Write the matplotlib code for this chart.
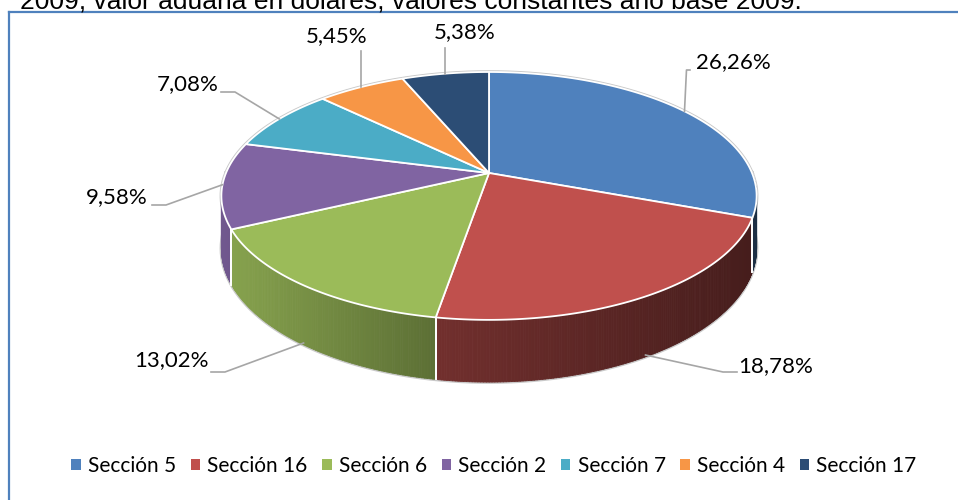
import numpy as np
import matplotlib
matplotlib.use("Agg")
import matplotlib.pyplot as plt
from matplotlib.patches import Polygon, Patch
from matplotlib.collections import PolyCollection

# ---------------------------------------------------------------------------
# data
# ---------------------------------------------------------------------------
labels = ["Sección 5", "Sección 16", "Sección 6", "Sección 2",
          "Sección 7", "Sección 4", "Sección 17"]
values = [26.26, 18.78, 13.02, 9.58, 7.08, 5.45, 5.38]
colors = ["#4F81BD", "#C0504D", "#9BBB59", "#8064A2",
          "#4BACC6", "#F79646", "#2C4D75"]
title = "2009, valor aduana en dólares, valores constantes año base 2009."

# label text centres (pixels) and leader elbow points
label_pos = [(733, 62), (776, 366), (171, 360), (117, 197),
             (188, 84), (337, 36), (465, 32)]
leader_end = [(690, 70), (737, 372), (211, 372), (152, 205),
              (221, 92), (None, 51), (None, 48)]

# ---------------------------------------------------------------------------
# 3d pie geometry (simple perspective on a tilted disc), pixel coords
# ---------------------------------------------------------------------------
W, H = 958, 500
CX, CY = 489.0, 173.0
R, RK, P = 263.0, 119.7, 0.185
DEPTH = 50.7


def proj(t):
    tr = np.radians(t)
    w = 1 + P * np.sin(tr)
    return CX + R * np.cos(tr) / w, CY - RK * np.sin(tr) / w, DEPTH / w


def shade(x):
    return np.interp(x, [222, 440, 757], [0.88, 0.59, 0.36])


def rgb(c):
    c = c.lstrip("#")
    return np.array([int(c[i:i + 2], 16) for i in (0, 2, 4)]) / 255.0


fig = plt.figure(figsize=(W / 100, H / 100), dpi=100)
ax = fig.add_axes([0, 0, 1, 1])
ax.set_xlim(0, W)
ax.set_ylim(H, 0)
ax.axis("off")

total = sum(values)
spans = [v / total * 360 for v in values]
starts = 90 - np.concatenate([[0], np.cumsum(spans)[:-1]])

# silhouette outline (light grey)
tt = np.linspace(0, 360, 400)
ex, ey, ed = proj(tt)
ax.plot(ex, ey, color="#C9C9C9", lw=2.6, zorder=1)
tf = np.linspace(-180, 0, 200)
fx, fy, fd = proj(tf)
ax.plot(fx, fy + fd, color="#C9C9C9", lw=2.6, zorder=1)
for t in (-180, 0):
    x0, y0, d0 = proj(t)
    ax.plot([x0, x0], [y0, y0 + d0], color="#C9C9C9", lw=2.6, zorder=1)

# sides
for t0, sp, col in zip(starts, spans, colors):
    t1 = t0 - sp
    a, b = max(t1, -180), min(t0, 0)
    if a >= b:
        continue
    ts = np.linspace(a, b, max(int((b - a) * 2), 4))
    xs, ys, ds = proj(ts)
    quads, fcs = [], []
    base = rgb(col)
    for i in range(len(ts) - 1):
        quads.append([(xs[i], ys[i]), (xs[i + 1], ys[i + 1]),
                      (xs[i + 1], ys[i + 1] + ds[i + 1]), (xs[i], ys[i] + ds[i])])
        fcs.append(np.clip(base * shade((xs[i] + xs[i + 1]) / 2), 0, 1))
    ax.add_collection(PolyCollection(quads, facecolors=fcs, edgecolors=fcs,
                                     linewidths=0.6, zorder=2))
    # white separators on the side
    for tb in (a, b):
        if -180 < tb < 0:
            x0, y0, d0 = proj(tb)
            ax.plot([x0, x0], [y0, y0 + d0], color="white", lw=1.3, zorder=3)

# tops
for t0, sp, col in zip(starts, spans, colors):
    ts = np.linspace(t0, t0 - sp, max(int(sp * 2), 4))
    xs, ys, _ = proj(ts)
    pts = np.column_stack([np.r_[CX, xs], np.r_[CY, ys]])
    ax.add_patch(Polygon(pts, closed=True, facecolor=col, edgecolor="white",
                         lw=1.3, joinstyle="round", zorder=4))

# data labels with leader lines
lab_font = dict(family="Lato", fontsize=16, color="black")
for t0, sp, v, (lx, ly), (ex_, ey_) in zip(starts, spans, values,
                                            label_pos, leader_end):
    tm = t0 - sp / 2
    ax_, ay_, ad_ = proj(tm)
    if np.sin(np.radians(tm)) < -0.5:
        ay_ = ay_ + ad_ * 0.97
    if ex_ is None:
        xs_, ys_ = [ax_, ax_], [ay_, ey_]
    else:
        elbow = ex_ + (14 if ex_ < ax_ else -14)
        if abs(ex_ - ax_) < 20:
            elbow = ax_ + 2
        xs_, ys_ = [ax_, elbow, ex_], [ay_, ey_, ey_]
    ax.plot(xs_, ys_, color="#A6A6A6", lw=1.2, zorder=5)
    txt = f"{v:.2f}".replace(".", ",") + "%"
    ax.text(lx, ly, txt, ha="center", va="center", zorder=6, **lab_font)

# frame and clipped title
ax.plot([9, 9], [12, H], color="#4F81BD", lw=1.6, zorder=0)
ax.plot([9, W], [12, 12], color="#4F81BD", lw=1.6, zorder=0)
ax.text(20, 9, title, ha="left", va="baseline", family="Liberation Sans",
        fontsize=19, color="black")

handles = [Patch(facecolor=c, edgecolor="none") for c in colors]
fig.legend(handles, labels, loc="center", bbox_to_anchor=(494 / W, 1 - 466 / H),
           ncol=7, frameon=False, handlelength=0.45, handleheight=0.45,
           handletextpad=0.35, columnspacing=0.7,
           prop=dict(family="Lato", size=15))

fig.savefig("out.png", dpi=100)
